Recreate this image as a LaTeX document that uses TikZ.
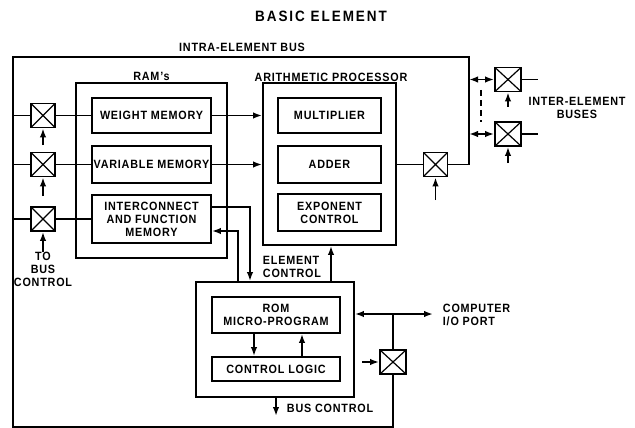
\documentclass[tikz,border=0pt]{standalone}
\usepackage{fontspec}
\setmainfont{Liberation Sans}[FakeStretch=0.9, LetterSpace=6.5]
\usetikzlibrary{arrows.meta}

\begin{document}
\begin{tikzpicture}[x=1pt, y=-1pt, line width=1.9pt,
  lbl/.style={font=\fontsize{12}{13}\selectfont\bfseries, inner sep=0pt, align=center},
  blk/.style={draw, lbl},
  grp/.style={draw},
  sw/.style={draw, minimum width=24pt, minimum height=24pt, inner sep=0pt,
    path picture={\draw[line width=1.2pt]
      (path picture bounding box.south west) -- (path picture bounding box.north east)
      (path picture bounding box.north west) -- (path picture bounding box.south east);}},
  arr/.style={-{Latex[length=9pt,width=6.5pt]}},
  biarr/.style={{Latex[length=9pt,width=6.5pt]}-{Latex[length=9pt,width=6.5pt]}}]

\useasboundingbox (0,0) rectangle (635,428);

% title and bus label
\node[lbl, font=\fontsize{15}{15}\selectfont\bfseries\addfontfeature{LetterSpace=13}] (title) at (321,16) {BASIC ELEMENT};
\node[lbl] (busl) at (242,47) {INTRA-ELEMENT BUS};

% group boxes
\node[grp, minimum width=151pt, minimum height=175pt] (ram) at (151.5,170.5) {};
\node[lbl] (raml) at (151.5,76) {RAM's};
\node[grp, minimum width=133pt, minimum height=162pt] (ap) at (329.5,164) {};
\node[lbl] (apl) at (331,77) {ARITHMETIC PROCESSOR};
\node[grp, minimum width=158pt, minimum height=115pt] (ctrl) at (275,339.5) {};

% memories
\node[blk, minimum width=119pt, minimum height=35pt] (wm) at (151.5,115.5) {WEIGHT MEMORY};
\node[blk, minimum width=119pt, minimum height=37pt] (vm) at (151.5,164.5) {VARIABLE MEMORY};
\node[blk, minimum width=119pt, minimum height=48pt] (ic) at (151.5,219) {INTERCONNECT\\AND FUNCTION\\MEMORY};

% arithmetic units
\node[blk, minimum width=103pt, minimum height=35pt] (mul) at (329.5,115.5) {MULTIPLIER};
\node[blk, minimum width=103pt, minimum height=37pt] (add) at (329.5,164.5) {ADDER};
\node[blk, minimum width=103pt, minimum height=37pt] (exc) at (329.5,212.5) {EXPONENT\\CONTROL};

% control section
\node[blk, minimum width=128pt, minimum height=36pt] (rom) at (276,315) {ROM\\MICRO-PROGRAM};
\node[blk, minimum width=128pt, minimum height=24pt] (cl) at (276,369) {CONTROL LOGIC};

% switches
\node[sw] (s1) at (43,115.5) {};
\node[sw] (s2) at (43,164.5) {};
\node[sw] (s3) at (43,219) {};
\node[sw] (sa) at (435.5,164.5) {};
\node[sw, minimum width=26pt] (r1) at (508,79.5) {};
\node[sw, minimum width=26pt] (r2) at (508,134) {};
\node[sw, minimum width=26pt] (sio) at (393,362) {};

% bus corner points
\coordinate (tl) at (13,57);
\coordinate (tr) at (469,57);
\coordinate (bl) at (13,427);
\coordinate (br) at (393,427);
\coordinate (io) at (393,314);

% intra-element bus
\draw (sa.east) -- (sa.east -| tr) -- (tr) -- (tl) -- (bl) -- (br) -- (sio.south);
\draw (sio.north) -- (io);

% left switches to memories
\foreach \s/\m in {s1/wm, s2/vm, s3/ic} {
  \draw (\s.west -| tl) -- (\s.west);
  \draw (\s.east) -- (\m.west);
}
\draw[arr] (43,145) -- (s1.south);
\draw[arr] (43,196) -- (s2.south);
\draw[arr] (43,252) -- (s3.south);
\node[lbl] (tobus) at (43,269) {TO\\BUS\\CONTROL};

% memories to arithmetic processor
\draw[arr] (wm.east) -- (wm.east -| ap.west);
\draw[arr] (vm.east) -- (vm.east -| ap.west);

% adder output
\draw (add.east -| ap.east) -- (sa.west);
\draw[arr] (435.5,200) -- (sa.south);

% inter-element buses
\draw[biarr] (r1.west -| tr) -- (r1.west);
\draw[biarr] (r2.west -| tr) -- (r2.west);
\draw (r1.east) -- ++(16,0);
\draw (r2.east) -- ++(16,0);
\draw[arr] (508,107) -- (r1.south);
\draw[arr] (508,163) -- (r2.south);
\draw[line width=1.3pt, dash pattern=on 6pt off 4pt] (481,90) -- (481,122);
\node[lbl] (iebl) at (577,108) {INTER-ELEMENT\\BUSES};

% interconnect memory links to control
\draw[arr] (ic.east |- 0,207) -- (250,207) -- (250,0 |- ctrl.north);
\draw[arr] (238,0 |- ctrl.north) -- (238,231) -- (ic.east |- 0,231);

% element control
\draw[arr] (331,0 |- ctrl.north) -- (331,0 |- ap.south);
\node[lbl, anchor=west, align=left] (ecl) at (262,267) {ELEMENT\\CONTROL};

% rom / control logic
\draw[arr] (254,0 |- rom.south) -- (254,0 |- cl.north);
\draw[arr] (302,0 |- cl.north) -- (302,0 |- rom.south);

% computer i/o port
\draw[biarr] (ctrl.east |- io) -- (433,314);
\node[lbl, anchor=west, align=left] (iol) at (442,314.5) {COMPUTER\\I/O PORT};
\draw[arr] (362,362) -- (sio.west);

% bus control
\draw[arr] (276,0 |- ctrl.south) -- (276,416);
\node[lbl, anchor=west] (bcl) at (286,408) {BUS CONTROL};

\end{tikzpicture}
\end{document}
